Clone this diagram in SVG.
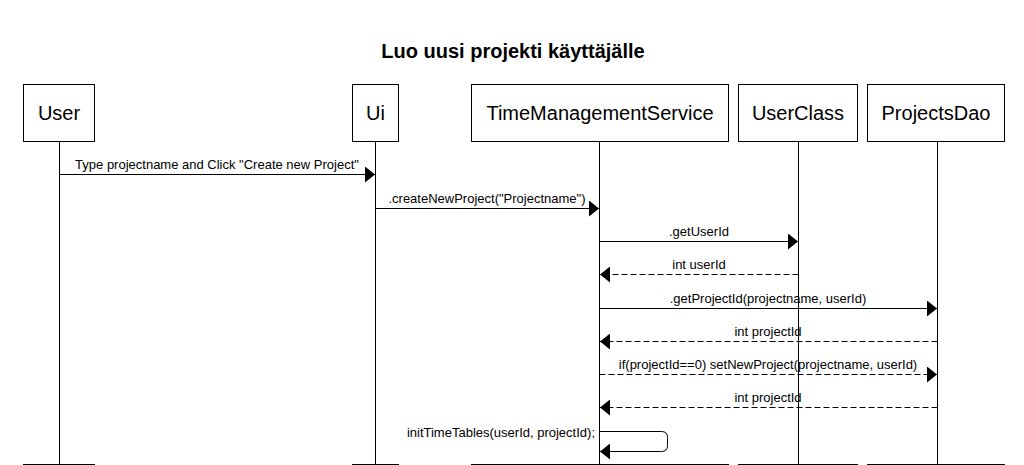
<svg xmlns="http://www.w3.org/2000/svg" width="1024" height="465" viewBox="0 0 1024 465">
<style>
  .box { fill: #fff; stroke: #000; stroke-width: 1; }
  .life { stroke: #000; stroke-width: 1; fill: none; }
  .msg { stroke: #000; stroke-width: 1; fill: none; }
  .ret { stroke: #000; stroke-width: 1; fill: none; stroke-dasharray: 6,3; }
  .lbl { font-family: "Liberation Sans", Arial, sans-serif; font-size: 20px; fill: #000; text-anchor: middle; }
  .mt { font-family: "Liberation Sans", Arial, sans-serif; font-size: 13px; fill: #000; text-anchor: middle; }
  .title { font-family: "Liberation Sans", Arial, sans-serif; font-size: 20px; font-weight: bold; fill: #000; text-anchor: middle; }
</style>
<defs>
  <marker id="ah" viewBox="0 0 10 16" refX="10" refY="8" markerWidth="10" markerHeight="16" markerUnits="userSpaceOnUse" orient="auto">
    <path d="M0,0 L10,8 L0,16 Z" fill="#000"/>
  </marker>
</defs>
<rect width="1024" height="465" fill="#fff"/>
<text class="title" x="513" y="58">Luo uusi projekti käyttäjälle</text>

<g id="lifelines">
  <line class="life" x1="59.5" y1="141" x2="59.5" y2="464"/>
  <line class="life" x1="375.5" y1="141" x2="375.5" y2="464"/>
  <line class="life" x1="599.5" y1="141" x2="599.5" y2="464"/>
  <line class="life" x1="798.5" y1="141" x2="798.5" y2="464"/>
  <line class="life" x1="937.5" y1="141" x2="937.5" y2="464"/>
</g>

<g id="User">
  <rect class="box" x="23.5" y="84.5" width="71" height="57"/>
  <text class="lbl" x="59" y="120">User</text>
  <rect class="box" x="23.5" y="464.5" width="71" height="57"/>
</g>
<g id="Ui">
  <rect class="box" x="352.5" y="84.5" width="46" height="57"/>
  <text class="lbl" x="375.5" y="120">Ui</text>
  <rect class="box" x="352.5" y="464.5" width="46" height="57"/>
</g>
<g id="TimeManagementService">
  <rect class="box" x="471.5" y="84.5" width="257" height="57"/>
  <text class="lbl" x="600" y="120">TimeManagementService</text>
  <rect class="box" x="471.5" y="464.5" width="257" height="57"/>
</g>
<g id="UserClass">
  <rect class="box" x="738.5" y="84.5" width="119" height="57"/>
  <text class="lbl" x="798" y="120">UserClass</text>
  <rect class="box" x="738.5" y="464.5" width="119" height="57"/>
</g>
<g id="ProjectsDao">
  <rect class="box" x="867.5" y="84.5" width="137" height="57"/>
  <text class="lbl" x="936" y="120">ProjectsDao</text>
  <rect class="box" x="867.5" y="464.5" width="137" height="57"/>
</g>

<g id="connectors">
  <line class="msg" x1="59.5" y1="174.5" x2="375" y2="174.5" marker-end="url(#ah)"/>
  <text class="mt" x="217" y="169">Type projectname and Click "Create new Project"</text>

  <line class="msg" x1="375.5" y1="208.5" x2="599" y2="208.5" marker-end="url(#ah)"/>
  <text class="mt" x="487" y="203">.createNewProject("Projectname")</text>

  <line class="msg" x1="599.5" y1="241.5" x2="798" y2="241.5" marker-end="url(#ah)"/>
  <text class="mt" x="699" y="236">.getUserId</text>

  <line class="ret" x1="798.5" y1="274.5" x2="600" y2="274.5" marker-end="url(#ah)"/>
  <text class="mt" x="699" y="269">int userId</text>

  <line class="msg" x1="599.5" y1="308.5" x2="937" y2="308.5" marker-end="url(#ah)"/>
  <text class="mt" x="768" y="303">.getProjectId(projectname, userId)</text>

  <line class="ret" x1="937.5" y1="341.5" x2="600" y2="341.5" marker-end="url(#ah)"/>
  <text class="mt" x="768" y="336">int projectId</text>

  <line class="ret" x1="599.5" y1="374.5" x2="937" y2="374.5" marker-end="url(#ah)"/>
  <text class="mt" x="768" y="369">if(projectId==0) setNewProject(projectname, userId)</text>

  <line class="ret" x1="937.5" y1="407.5" x2="600" y2="407.5" marker-end="url(#ah)"/>
  <text class="mt" x="768" y="402">int projectId</text>

  <path class="msg" d="M599.5,431.5 H661.5 Q667.5,431.5 667.5,437.5 V445.5 Q667.5,451.5 661.5,451.5 H600" marker-end="url(#ah)"/>
  <text class="mt" x="595" y="437" style="text-anchor:end">initTimeTables(userId, projectId);</text>
</g>
</svg>
